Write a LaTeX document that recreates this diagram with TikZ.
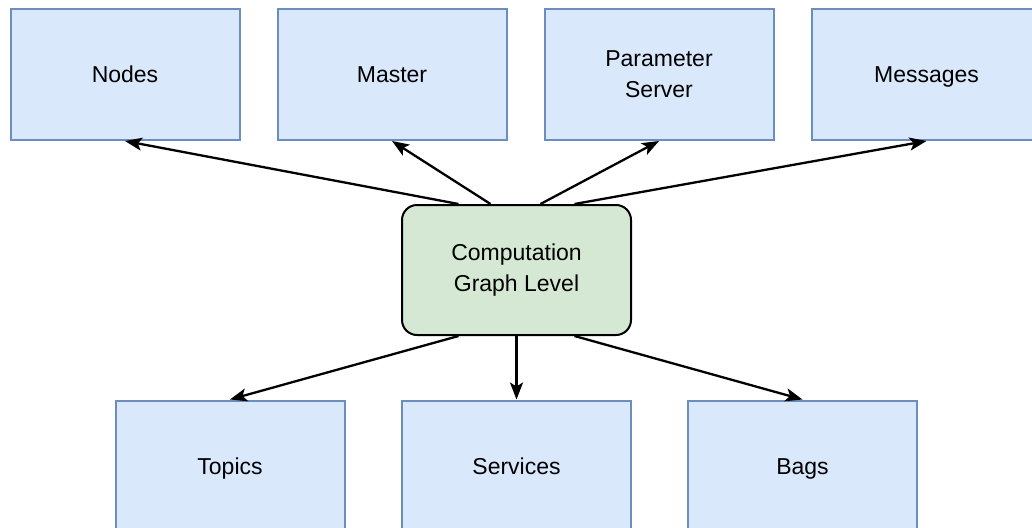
\documentclass[tikz,border=0pt]{standalone}
\usepackage{fontspec}
\setmainfont{Liberation Sans}
\usetikzlibrary{arrows.meta}
\definecolor{bfill}{HTML}{DAE8FC}
\definecolor{bdraw}{HTML}{6C8EBF}
\definecolor{gfill}{HTML}{D5E8D4}
\begin{document}
\begin{tikzpicture}[x=1pt,y=-1pt,
  box/.style={draw=bdraw,fill=bfill,line width=2pt,minimum width=229pt,minimum height=131pt,inner sep=0pt,align=center,font=\fontsize{23}{31}\selectfont},
  one/.style={text height=16.5pt,text depth=0pt},
  cbox/.style={draw=black,fill=gfill,line width=2pt,rounded corners=15pt,minimum width=229pt,minimum height=130pt,inner sep=0pt,align=center,font=\fontsize{23}{31}\selectfont},
  conn/.style={line width=2.3pt,-{Stealth[length=17pt,width=13pt,inset=4pt]}}]
\useasboundingbox (0,0) rectangle (1032,527);
\clip (0,0) rectangle (1032,527);
\node[box,one] (nodes) at (125,74.5) {Nodes};
\node[box,one] (master) at (392,74.5) {Master};
\node[box] (param) at (659,74.5) {Parameter\\Server};
\node[box,one] (msgs) at (926.5,74.5) {Messages};
\node[cbox] (c) at (516.5,270) {Computation\\Graph Level};
\node[box,one] (topics) at (230,466) {Topics};
\node[box,one] (services) at (516.5,466) {Services};
\node[box,one] (bags) at (802.5,466) {Bags};
\draw[conn] ([xshift=-58pt]c.north) -- (nodes.south);
\draw[conn] ([xshift=-26pt]c.north) -- (master.south);
\draw[conn] ([xshift=24pt]c.north) -- (param.south);
\draw[conn] ([xshift=58pt]c.north) -- (msgs.south);
\draw[conn] ([xshift=-58pt]c.south) -- (topics.north);
\draw[conn] (c.south) -- (services.north);
\draw[conn] ([xshift=58pt]c.south) -- (bags.north);
\end{tikzpicture}
\end{document}
